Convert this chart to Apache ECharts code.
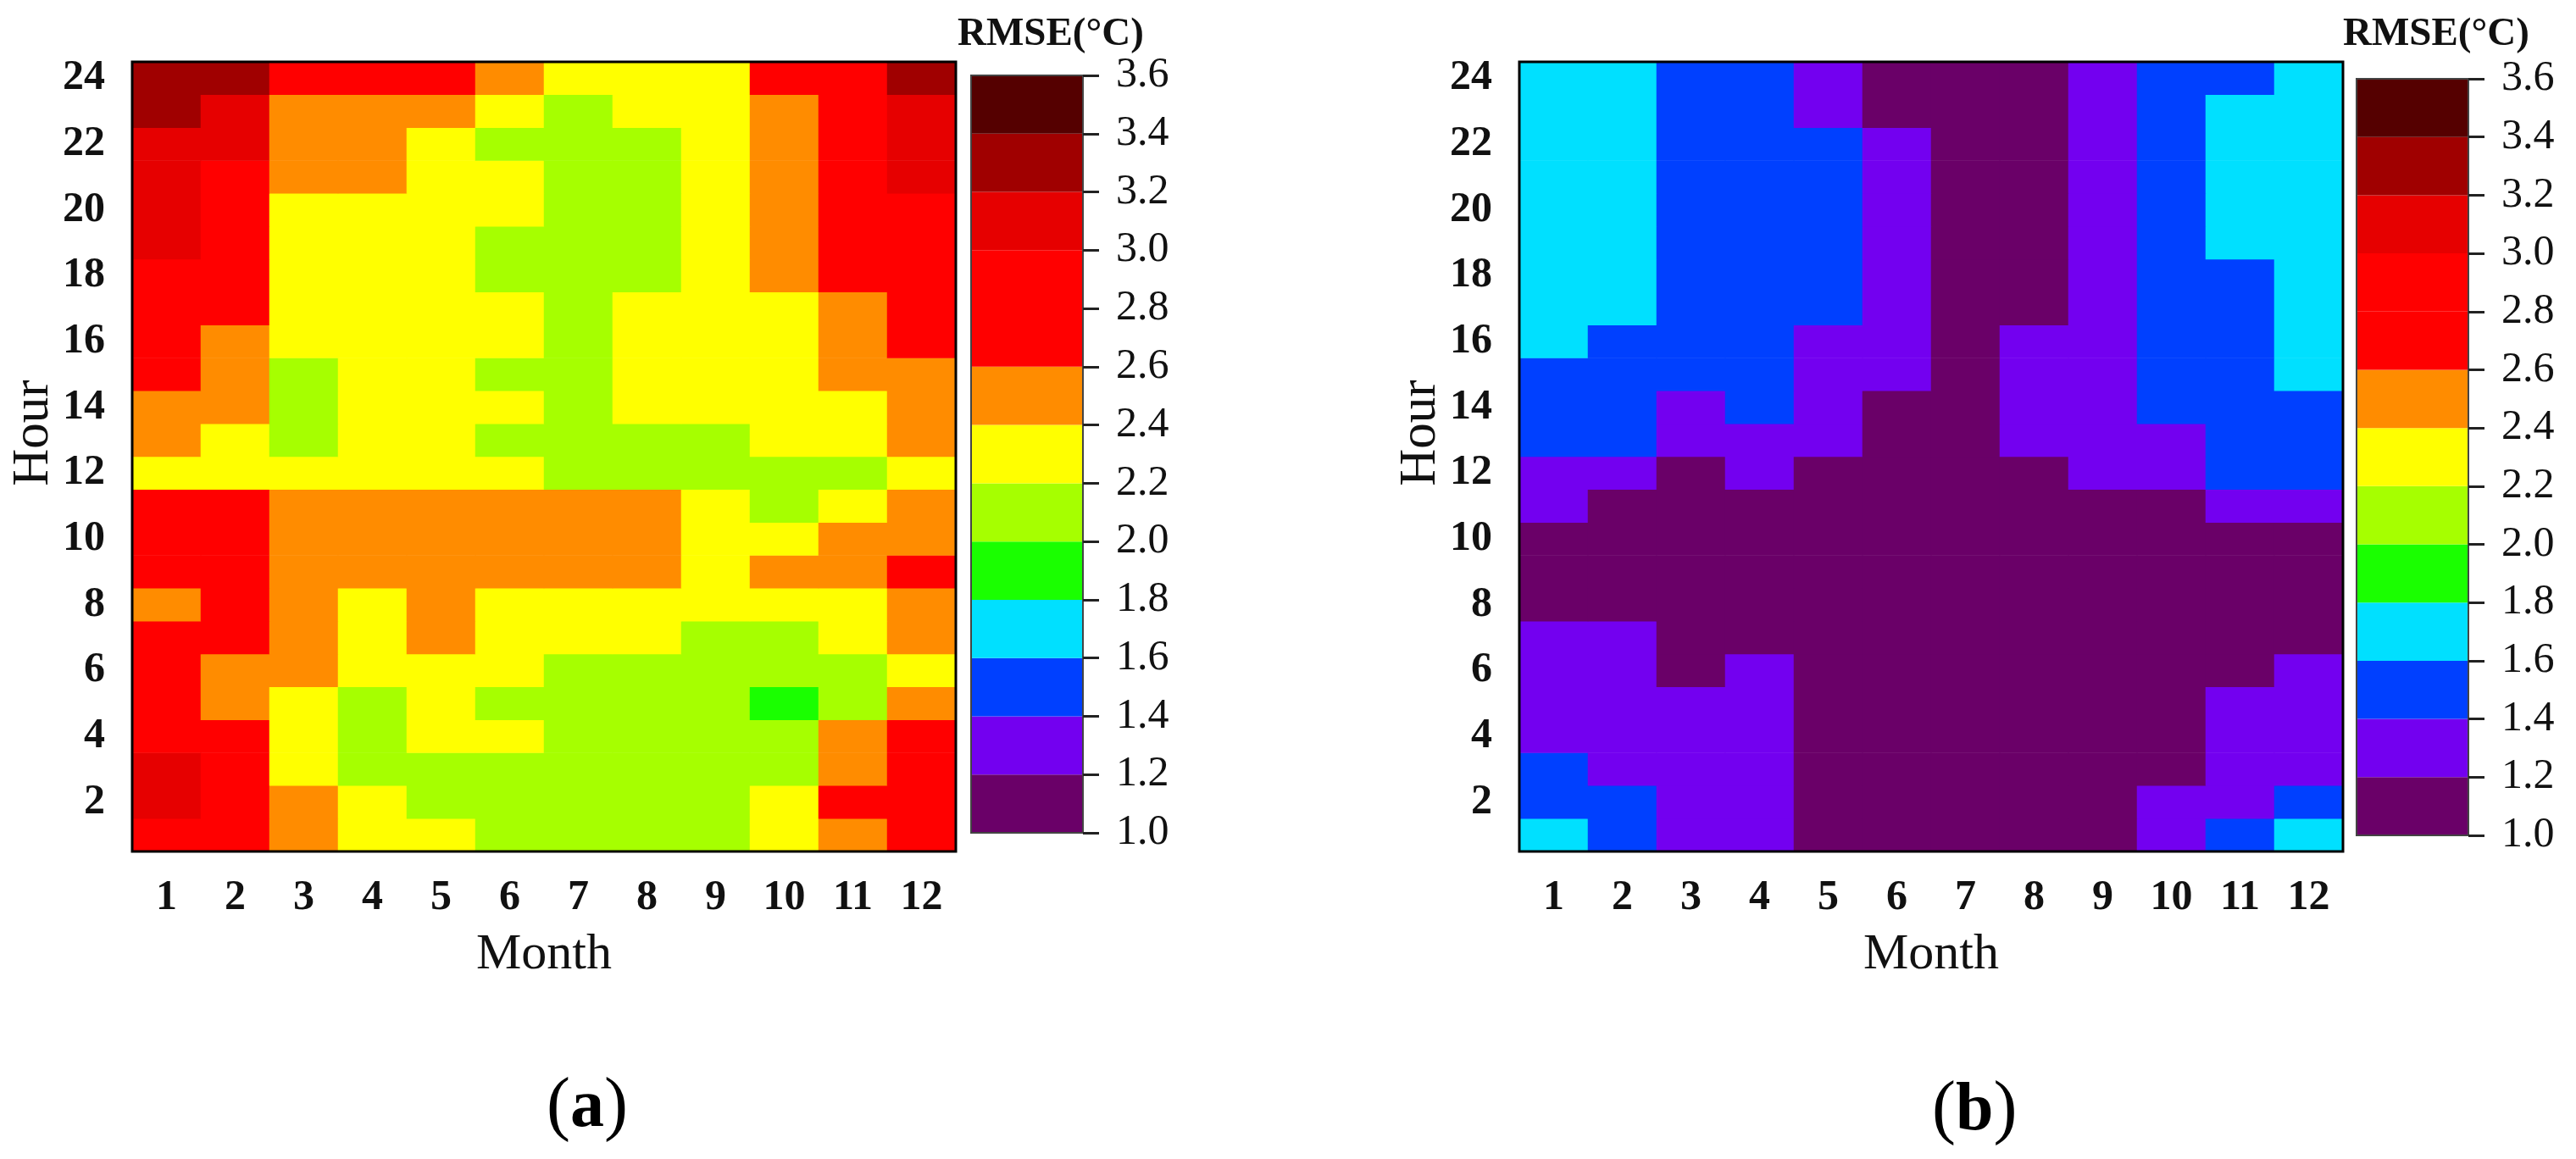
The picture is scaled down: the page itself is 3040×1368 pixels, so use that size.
<!DOCTYPE html>
<html>
<head>
<meta charset="utf-8">
<title>RMSE by month and hour</title>
<script src="https://cdn.jsdelivr.net/npm/echarts@6/dist/echarts.min.js"></script>
<style>
    html, body { margin: 0; padding: 0; background: #fff; }
    #main { width: 3040px; height: 1368px; }
</style>
</head>
<body>
<div id="main"></div>
<script>
const months = ['1', '2', '3', '4', '5', '6', '7', '8', '9', '10', '11', '12']
const hours = ['1', '2', '3', '4', '5', '6', '7', '8', '9', '10', '11', '12', '13', '14', '15', '16', '17', '18', '19', '20', '21', '22', '23', '24']

// colour bar: band edges and the colour of each band
const bandEdges = [1.0, 1.2, 1.4, 1.6, 1.8, 2.0, 2.2, 2.4, 2.6, 2.8, 3.0, 3.2, 3.4, 3.6]
const bandColors = ['#6a0068', '#7300f0', '#0040ff', '#00e0ff', '#1aff00', '#a6ff00', '#ffff00', '#ff8c00', '#ff0000', '#ff0000', '#e60000', '#a00000', '#550000']

// panel (a), one row per hour starting at hour 1, read to the middle of each band
const rmseA = [
    [2.7, 2.7, 2.5, 2.3, 2.3, 2.1, 2.1, 2.1, 2.1, 2.3, 2.5, 2.7],
    [3.1, 2.7, 2.5, 2.3, 2.1, 2.1, 2.1, 2.1, 2.1, 2.3, 2.7, 2.7],
    [3.1, 2.7, 2.3, 2.1, 2.1, 2.1, 2.1, 2.1, 2.1, 2.1, 2.5, 2.7],
    [2.7, 2.7, 2.3, 2.1, 2.3, 2.3, 2.1, 2.1, 2.1, 2.1, 2.5, 2.7],
    [2.7, 2.5, 2.3, 2.1, 2.3, 2.1, 2.1, 2.1, 2.1, 1.9, 2.1, 2.5],
    [2.7, 2.5, 2.5, 2.3, 2.3, 2.3, 2.1, 2.1, 2.1, 2.1, 2.1, 2.3],
    [2.7, 2.7, 2.5, 2.3, 2.5, 2.3, 2.3, 2.3, 2.1, 2.1, 2.3, 2.5],
    [2.5, 2.7, 2.5, 2.3, 2.5, 2.3, 2.3, 2.3, 2.3, 2.3, 2.3, 2.5],
    [2.7, 2.7, 2.5, 2.5, 2.5, 2.5, 2.5, 2.5, 2.3, 2.5, 2.5, 2.7],
    [2.7, 2.7, 2.5, 2.5, 2.5, 2.5, 2.5, 2.5, 2.3, 2.3, 2.5, 2.5],
    [2.7, 2.7, 2.5, 2.5, 2.5, 2.5, 2.5, 2.5, 2.3, 2.1, 2.3, 2.5],
    [2.3, 2.3, 2.3, 2.3, 2.3, 2.3, 2.1, 2.1, 2.1, 2.1, 2.1, 2.3],
    [2.5, 2.3, 2.1, 2.3, 2.3, 2.1, 2.1, 2.1, 2.1, 2.3, 2.3, 2.5],
    [2.5, 2.5, 2.1, 2.3, 2.3, 2.3, 2.1, 2.3, 2.3, 2.3, 2.3, 2.5],
    [2.7, 2.5, 2.1, 2.3, 2.3, 2.1, 2.1, 2.3, 2.3, 2.3, 2.5, 2.5],
    [2.7, 2.5, 2.3, 2.3, 2.3, 2.3, 2.1, 2.3, 2.3, 2.3, 2.5, 2.7],
    [2.7, 2.7, 2.3, 2.3, 2.3, 2.3, 2.1, 2.3, 2.3, 2.3, 2.5, 2.7],
    [2.7, 2.7, 2.3, 2.3, 2.3, 2.1, 2.1, 2.1, 2.3, 2.5, 2.7, 2.7],
    [3.1, 2.7, 2.3, 2.3, 2.3, 2.1, 2.1, 2.1, 2.3, 2.5, 2.7, 2.7],
    [3.1, 2.7, 2.3, 2.3, 2.3, 2.3, 2.1, 2.1, 2.3, 2.5, 2.7, 2.7],
    [3.1, 2.7, 2.5, 2.5, 2.3, 2.3, 2.1, 2.1, 2.3, 2.5, 2.7, 3.1],
    [3.1, 3.1, 2.5, 2.5, 2.3, 2.1, 2.1, 2.1, 2.3, 2.5, 2.7, 3.1],
    [3.3, 3.1, 2.5, 2.5, 2.5, 2.3, 2.1, 2.3, 2.3, 2.5, 2.7, 3.1],
    [3.3, 3.3, 2.7, 2.7, 2.7, 2.5, 2.3, 2.3, 2.3, 2.7, 2.7, 3.3]
]

// panel (b), same layout
const rmseB = [
    [1.7, 1.5, 1.3, 1.3, 1.1, 1.1, 1.1, 1.1, 1.1, 1.3, 1.5, 1.7],
    [1.5, 1.5, 1.3, 1.3, 1.1, 1.1, 1.1, 1.1, 1.1, 1.3, 1.3, 1.5],
    [1.5, 1.3, 1.3, 1.3, 1.1, 1.1, 1.1, 1.1, 1.1, 1.1, 1.3, 1.3],
    [1.3, 1.3, 1.3, 1.3, 1.1, 1.1, 1.1, 1.1, 1.1, 1.1, 1.3, 1.3],
    [1.3, 1.3, 1.3, 1.3, 1.1, 1.1, 1.1, 1.1, 1.1, 1.1, 1.3, 1.3],
    [1.3, 1.3, 1.1, 1.3, 1.1, 1.1, 1.1, 1.1, 1.1, 1.1, 1.1, 1.3],
    [1.3, 1.3, 1.1, 1.1, 1.1, 1.1, 1.1, 1.1, 1.1, 1.1, 1.1, 1.1],
    [1.1, 1.1, 1.1, 1.1, 1.1, 1.1, 1.1, 1.1, 1.1, 1.1, 1.1, 1.1],
    [1.1, 1.1, 1.1, 1.1, 1.1, 1.1, 1.1, 1.1, 1.1, 1.1, 1.1, 1.1],
    [1.1, 1.1, 1.1, 1.1, 1.1, 1.1, 1.1, 1.1, 1.1, 1.1, 1.1, 1.1],
    [1.3, 1.1, 1.1, 1.1, 1.1, 1.1, 1.1, 1.1, 1.1, 1.1, 1.3, 1.3],
    [1.3, 1.3, 1.1, 1.3, 1.1, 1.1, 1.1, 1.1, 1.3, 1.3, 1.5, 1.5],
    [1.5, 1.5, 1.3, 1.3, 1.3, 1.1, 1.1, 1.3, 1.3, 1.3, 1.5, 1.5],
    [1.5, 1.5, 1.3, 1.5, 1.3, 1.1, 1.1, 1.3, 1.3, 1.5, 1.5, 1.5],
    [1.5, 1.5, 1.5, 1.5, 1.3, 1.3, 1.1, 1.3, 1.3, 1.5, 1.5, 1.7],
    [1.7, 1.5, 1.5, 1.5, 1.3, 1.3, 1.1, 1.3, 1.3, 1.5, 1.5, 1.7],
    [1.7, 1.7, 1.5, 1.5, 1.5, 1.3, 1.1, 1.1, 1.3, 1.5, 1.5, 1.7],
    [1.7, 1.7, 1.5, 1.5, 1.5, 1.3, 1.1, 1.1, 1.3, 1.5, 1.5, 1.7],
    [1.7, 1.7, 1.5, 1.5, 1.5, 1.3, 1.1, 1.1, 1.3, 1.5, 1.7, 1.7],
    [1.7, 1.7, 1.5, 1.5, 1.5, 1.3, 1.1, 1.1, 1.3, 1.5, 1.7, 1.7],
    [1.7, 1.7, 1.5, 1.5, 1.5, 1.3, 1.1, 1.1, 1.3, 1.5, 1.7, 1.7],
    [1.7, 1.7, 1.5, 1.5, 1.5, 1.3, 1.1, 1.1, 1.3, 1.5, 1.7, 1.7],
    [1.7, 1.7, 1.5, 1.5, 1.3, 1.1, 1.1, 1.1, 1.3, 1.5, 1.7, 1.7],
    [1.7, 1.7, 1.5, 1.5, 1.3, 1.1, 1.1, 1.1, 1.3, 1.5, 1.5, 1.7]
]

const serif = '"Liberation Serif", "Times New Roman", serif'
const textColor = '#111'

function toCells(rows) {
    let cells = []
    for (let h = 0; h < rows.length; h++) {
        for (let m = 0; m < rows[h].length; m++) {
            cells.push([m, h, rows[h][m]])
        }
    }
    return cells
}

let everySecond = function (i) { return (i + 1) % 2 == 0 }

let grids = []
let xAxes = []
let yAxes = []
let series = []

// one heatmap plus its colour bar
function addPanel(rows, plotLeft, barLeft, barTop, barHeight) {
    let plot = grids.length
    grids.push({
        left: plotLeft, top: 73, width: 972, height: 932, z: 5, show: true,
        backgroundColor: 'transparent', borderColor: '#000', borderWidth: 3
    })
    xAxes.push({
        gridIndex: plot, type: 'category', data: months, name: 'Month', nameLocation: 'middle', nameGap: 92,
        nameTextStyle: { fontFamily: serif, fontSize: 60, color: textColor },
        axisLine: { show: false },
        axisTick: { alignWithLabel: true, length: 17, lineStyle: { color: '#222', width: 3 } },
        axisLabel: { interval: 0, margin: 30, fontFamily: serif, fontWeight: 'bold', fontSize: 50, color: textColor },
        splitLine: { show: false }, z: 6
    })
    yAxes.push({
        gridIndex: plot, type: 'category', data: hours, name: 'Hour', nameLocation: 'middle', nameGap: 86, nameRotate: 90,
        nameTextStyle: { fontFamily: serif, fontSize: 61, color: textColor, padding: [0, 0, 0, 56] },
        axisLine: { show: false },
        axisTick: { alignWithLabel: true, interval: everySecond, length: 18, lineStyle: { color: '#222', width: 3 } },
        axisLabel: { interval: everySecond, margin: 32, fontFamily: serif, fontWeight: 'bold', fontSize: 50, color: textColor },
        splitLine: { show: false }, z: 6
    })
    series.push({
        type: 'heatmap', xAxisIndex: plot, yAxisIndex: plot, data: toCells(rows),
        itemStyle: { borderWidth: 0 }, emphasis: { disabled: true }
    })

    let bar = grids.length
    grids.push({
        left: barLeft, top: barTop, width: 132, height: barHeight, z: 5, show: true,
        backgroundColor: 'transparent', borderColor: '#444', borderWidth: 2
    })
    xAxes.push({
        gridIndex: bar, type: 'category', data: ['RMSE'],
        axisLine: { show: false }, axisTick: { show: false }, axisLabel: { show: false }, splitLine: { show: false }
    })
    yAxes.push({
        gridIndex: bar, type: 'value', position: 'right', min: 1.0, max: 3.6, interval: 0.2,
        axisLine: { show: false },
        axisTick: { show: true, length: 19, lineStyle: { color: '#222', width: 3 } },
        axisLabel: {
            margin: 39, fontFamily: serif, fontSize: 50, color: textColor,
            formatter: function (v) { return v.toFixed(1) }
        },
        splitLine: { show: false }, z: 6
    })
    for (let i = 0; i < bandColors.length; i++) {
        series.push({
            type: 'bar', xAxisIndex: bar, yAxisIndex: bar, stack: 'bar' + bar, barWidth: '100%',
            data: [i == 0 ? bandEdges[1] : bandEdges[i + 1] - bandEdges[i]],
            itemStyle: { color: bandColors[i] }, emphasis: { disabled: true }, silent: true
        })
    }
}

addPanel(rmseA, 156, 1146, 89, 894)
addPanel(rmseB, 1793, 2781, 93, 893)

let pieces = []
for (let i = 0; i < bandColors.length; i++) {
    pieces.push({ gte: bandEdges[i], lt: bandEdges[i + 1], color: bandColors[i] })
}

function unitTitle(left) {
    return {
        text: 'RMSE(°C)', left: left, top: 17, padding: 0,
        textStyle: { fontFamily: serif, fontWeight: 'bold', fontSize: 47, color: textColor }
    }
}

function panelTitle(letter, left, top) {
    return {
        text: '{p|(}{l|' + letter + '}{p|)}', left: left, top: top, padding: 0,
        textStyle: {
            rich: {
                p: { fontFamily: serif, fontWeight: 'normal', fontSize: 84, color: '#000' },
                l: { fontFamily: serif, fontWeight: 'bold', fontSize: 80, color: '#000' }
            }
        }
    }
}

let myChart = echarts.init(document.getElementById('main'))
myChart.setOption({
    animation: false,
    backgroundColor: '#fff',
    title: [unitTitle(1130), unitTitle(2765), panelTitle('a', 645, 1266), panelTitle('b', 2280, 1270)],
    tooltip: { show: false },
    visualMap: { show: false, type: 'piecewise', seriesIndex: [0, 14], pieces: pieces },
    grid: grids,
    xAxis: xAxes,
    yAxis: yAxes,
    series: series
})
</script>
</body>
</html>
